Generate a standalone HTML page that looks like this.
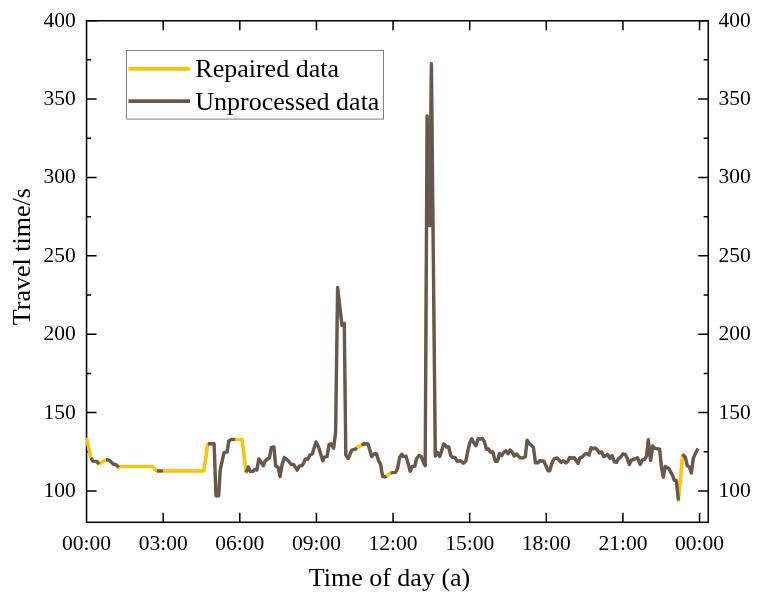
<!DOCTYPE html>
<html><head><meta charset="utf-8"><title>Travel time</title>
<style>
html,body{margin:0;padding:0;background:#fff;}
body{width:762px;height:600px;overflow:hidden;}
svg{display:block;}
text{font-family:"Liberation Serif","Times New Roman",serif;fill:#000;}
.tl{font-size:21.5px;}
.at{font-size:26px;}
.lg{font-size:26px;}
</style></head><body>
<svg width="762" height="600" viewBox="0 0 762 600">
<rect x="0" y="0" width="762" height="600" fill="#fff"/>
<g stroke="#000" stroke-width="1.5" fill="none" stroke-linecap="butt">
<rect x="86.55" y="20.75" width="621.7" height="501.55"/>
<path d="M86.55 491.00h10M708.25 491.00h-10"/>
<path d="M86.55 412.61h10M708.25 412.61h-10"/>
<path d="M86.55 334.22h10M708.25 334.22h-10"/>
<path d="M86.55 255.84h10M708.25 255.84h-10"/>
<path d="M86.55 177.45h10M708.25 177.45h-10"/>
<path d="M86.55 99.06h10M708.25 99.06h-10"/>
<path d="M86.55 20.67h10M708.25 20.67h-10"/>
<path d="M86.55 451.81h4.6M708.25 451.81h-4.6"/>
<path d="M86.55 373.42h4.6M708.25 373.42h-4.6"/>
<path d="M86.55 295.03h4.6M708.25 295.03h-4.6"/>
<path d="M86.55 216.64h4.6M708.25 216.64h-4.6"/>
<path d="M86.55 138.25h4.6M708.25 138.25h-4.6"/>
<path d="M86.55 59.86h4.6M708.25 59.86h-4.6"/>
<path d="M163.19 522.3v-9.6M163.19 20.75v9.4"/>
<path d="M239.81 522.3v-9.6M239.81 20.75v9.4"/>
<path d="M316.44 522.3v-9.6M316.44 20.75v9.4"/>
<path d="M393.06 522.3v-9.6M393.06 20.75v9.4"/>
<path d="M469.68 522.3v-9.6M469.68 20.75v9.4"/>
<path d="M546.31 522.3v-9.6M546.31 20.75v9.4"/>
<path d="M622.93 522.3v-9.6M622.93 20.75v9.4"/>
<path d="M699.55 522.3v-9.6M699.55 20.75v9.4"/>
</g>
<polyline points="86.6,437.8 90.8,457.9 92.9,461.1 97.1,461.4 98.6,464.2 106.0,459.6 109.1,460.2 113.3,464.0 116.5,464.8 118.4,467.4 120.2,466.6 152.2,466.6 156.9,471.0 162.9,471.0 203.8,471.0 207.9,443.8 214.1,443.8 216.0,495.7 218.7,495.7 220.2,469.9 224.0,452.7 227.2,451.8 228.8,441.0 231.4,439.4 235.2,439.4 242.1,439.4 246.1,472.4 248.3,467.1 250.4,471.5 253.0,471.4 254.7,469.4 256.8,470.0 258.9,458.9 261.0,461.8 263.3,465.8 265.2,460.9 269.4,457.9 271.3,447.7 273.9,447.0 275.7,465.9 278.0,467.2 280.1,476.6 282.0,465.0 284.3,457.5 288.3,460.8 290.9,464.2 293.6,464.5 297.2,470.1 299.3,466.1 301.9,465.6 303.5,463.5 305.3,458.9 308.0,459.2 309.8,455.0 312.3,454.0 316.0,441.9 318.6,447.2 322.8,460.8 324.4,457.1 327.0,456.6 329.1,444.5 331.2,444.0 333.6,448.2 335.6,432.4 337.6,287.4 342.0,325.4 344.3,323.4 345.8,455.0 348.3,458.4 351.7,450.2 355.4,449.2 356.6,447.6 361.7,445.1 363.8,443.7 368.0,444.0 371.7,456.6 373.8,454.0 376.4,453.8 378.6,460.8 380.6,464.2 382.6,476.6 385.3,476.8 386.3,476.0 390.7,472.9 395.5,472.4 397.6,468.2 399.7,457.2 401.8,454.2 403.3,456.6 406.0,456.1 410.2,471.2 412.3,466.6 414.9,466.1 416.5,458.7 419.1,455.4 421.2,456.6 424.3,464.5 425.2,465.6 427.1,115.9 429.7,225.7 431.4,63.6 435.3,456.1 437.6,452.6 439.8,456.5 443.8,444.0 445.4,445.2 446.8,447.2 448.7,446.8 450.7,455.4 452.8,457.4 455.0,457.4 457.1,461.2 460.7,460.8 463.4,463.2 465.8,461.2 467.6,451.9 469.7,443.0 471.8,438.8 473.9,443.0 476.0,445.6 478.1,438.8 480.2,439.1 482.3,438.2 484.4,441.9 486.5,449.2 488.6,449.0 490.7,452.4 492.8,451.9 495.2,461.2 497.5,461.2 499.4,453.5 501.7,455.6 503.8,452.4 505.9,450.8 508.0,453.8 510.1,450.0 512.2,451.9 514.3,456.1 516.5,454.0 520.1,457.8 523.3,457.9 525.3,456.6 527.1,440.2 529.7,444.0 533.4,447.2 535.5,462.9 537.9,462.9 539.7,460.8 543.9,461.2 548.1,470.8 549.7,470.8 552.3,461.9 554.4,458.7 557.0,458.0 561.2,462.4 563.3,460.8 565.9,462.9 568.0,461.2 569.6,457.4 571.7,458.2 574.3,457.7 578.0,463.4 580.1,457.7 582.2,457.1 584.9,454.2 587.0,453.5 589.1,455.1 591.1,447.7 592.8,448.9 595.0,447.9 597.1,449.6 599.5,452.9 601.6,451.9 603.7,456.6 605.8,455.6 607.6,454.5 610.0,458.2 612.1,455.6 614.4,461.9 616.5,462.4 618.6,458.7 620.7,457.1 622.8,454.0 625.4,454.5 627.0,457.7 629.3,464.5 631.2,460.2 633.8,459.5 637.5,457.7 640.1,464.5 642.2,460.2 644.8,459.2 646.5,456.2 648.3,439.8 650.6,460.6 652.7,445.9 655.0,448.4 659.6,449.2 661.4,466.8 663.3,477.1 665.2,466.4 668.7,468.4 672.7,475.7 674.4,480.4 676.3,480.4 678.4,500.4 682.7,454.4 685.3,457.1 687.3,465.7 689.6,467.1 691.3,473.1 693.3,458.4 695.3,453.7 698.0,448.4" fill="none" stroke="#FFC205" stroke-width="2.7" stroke-linejoin="round" stroke-linecap="butt"/>
<polyline points="86.6,437.8 90.8,457.9" fill="none" stroke="#FFC205" stroke-width="3.4" stroke-linejoin="round" stroke-linecap="butt"/>
<polyline points="98.6,464.2 106.0,459.6" fill="none" stroke="#FFC205" stroke-width="3.4" stroke-linejoin="round" stroke-linecap="butt"/>
<polyline points="118.4,467.4 120.2,466.6 152.2,466.6 156.9,471.0" fill="none" stroke="#FFC205" stroke-width="3.4" stroke-linejoin="round" stroke-linecap="butt"/>
<polyline points="162.9,471.0 203.8,471.0 207.9,443.8" fill="none" stroke="#FFC205" stroke-width="3.4" stroke-linejoin="round" stroke-linecap="butt"/>
<polyline points="235.2,439.4 242.1,439.4 246.1,472.4" fill="none" stroke="#FFC205" stroke-width="3.4" stroke-linejoin="round" stroke-linecap="butt"/>
<polyline points="356.6,447.6 361.7,445.1" fill="none" stroke="#FFC205" stroke-width="3.4" stroke-linejoin="round" stroke-linecap="butt"/>
<polyline points="386.3,476.0 390.7,472.9" fill="none" stroke="#FFC205" stroke-width="3.4" stroke-linejoin="round" stroke-linecap="butt"/>
<polyline points="678.4,500.4 682.7,454.4" fill="none" stroke="#FFC205" stroke-width="3.4" stroke-linejoin="round" stroke-linecap="butt"/>
<polyline points="90.8,457.9 92.9,461.1 97.1,461.4 98.6,464.2" fill="none" stroke="#67574C" stroke-width="3.4" stroke-linejoin="round" stroke-linecap="butt"/>
<polyline points="106.0,459.6 109.1,460.2 113.3,464.0 116.5,464.8 118.4,467.4" fill="none" stroke="#67574C" stroke-width="3.4" stroke-linejoin="round" stroke-linecap="butt"/>
<polyline points="156.9,471.0 162.9,471.0" fill="none" stroke="#67574C" stroke-width="3.4" stroke-linejoin="round" stroke-linecap="butt"/>
<polyline points="207.9,443.8 214.1,443.8 216.0,495.7 218.7,495.7 220.2,469.9 224.0,452.7 227.2,451.8 228.8,441.0 231.4,439.4 235.2,439.4" fill="none" stroke="#67574C" stroke-width="3.4" stroke-linejoin="round" stroke-linecap="butt"/>
<polyline points="246.1,472.4 248.3,467.1 250.4,471.5 253.0,471.4 254.7,469.4 256.8,470.0 258.9,458.9 261.0,461.8 263.3,465.8 265.2,460.9 269.4,457.9 271.3,447.7 273.9,447.0 275.7,465.9 278.0,467.2 280.1,476.6 282.0,465.0 284.3,457.5 288.3,460.8 290.9,464.2 293.6,464.5 297.2,470.1 299.3,466.1 301.9,465.6 303.5,463.5 305.3,458.9 308.0,459.2 309.8,455.0 312.3,454.0 316.0,441.9 318.6,447.2 322.8,460.8 324.4,457.1 327.0,456.6 329.1,444.5 331.2,444.0 333.6,448.2 335.6,432.4 337.6,287.4 342.0,325.4 344.3,323.4 345.8,455.0 348.3,458.4 351.7,450.2 355.4,449.2 356.6,447.6" fill="none" stroke="#67574C" stroke-width="3.4" stroke-linejoin="round" stroke-linecap="butt"/>
<polyline points="361.7,445.1 363.8,443.7 368.0,444.0 371.7,456.6 373.8,454.0 376.4,453.8 378.6,460.8 380.6,464.2 382.6,476.6 385.3,476.8 386.3,476.0" fill="none" stroke="#67574C" stroke-width="3.4" stroke-linejoin="round" stroke-linecap="butt"/>
<polyline points="390.7,472.9 395.5,472.4 397.6,468.2 399.7,457.2 401.8,454.2 403.3,456.6 406.0,456.1 410.2,471.2 412.3,466.6 414.9,466.1 416.5,458.7 419.1,455.4 421.2,456.6 424.3,464.5 425.2,465.6 427.1,115.9 429.7,225.7 431.4,63.6 435.3,456.1 437.6,452.6 439.8,456.5 443.8,444.0 445.4,445.2 446.8,447.2 448.7,446.8 450.7,455.4 452.8,457.4 455.0,457.4 457.1,461.2 460.7,460.8 463.4,463.2 465.8,461.2 467.6,451.9 469.7,443.0 471.8,438.8 473.9,443.0 476.0,445.6 478.1,438.8 480.2,439.1 482.3,438.2 484.4,441.9 486.5,449.2 488.6,449.0 490.7,452.4 492.8,451.9 495.2,461.2 497.5,461.2 499.4,453.5 501.7,455.6 503.8,452.4 505.9,450.8 508.0,453.8 510.1,450.0 512.2,451.9 514.3,456.1 516.5,454.0 520.1,457.8 523.3,457.9 525.3,456.6 527.1,440.2 529.7,444.0 533.4,447.2 535.5,462.9 537.9,462.9 539.7,460.8 543.9,461.2 548.1,470.8 549.7,470.8 552.3,461.9 554.4,458.7 557.0,458.0 561.2,462.4 563.3,460.8 565.9,462.9 568.0,461.2 569.6,457.4 571.7,458.2 574.3,457.7 578.0,463.4 580.1,457.7 582.2,457.1 584.9,454.2 587.0,453.5 589.1,455.1 591.1,447.7 592.8,448.9 595.0,447.9 597.1,449.6 599.5,452.9 601.6,451.9 603.7,456.6 605.8,455.6 607.6,454.5 610.0,458.2 612.1,455.6 614.4,461.9 616.5,462.4 618.6,458.7 620.7,457.1 622.8,454.0 625.4,454.5 627.0,457.7 629.3,464.5 631.2,460.2 633.8,459.5 637.5,457.7 640.1,464.5 642.2,460.2 644.8,459.2 646.5,456.2 648.3,439.8 650.6,460.6 652.7,445.9 655.0,448.4 659.6,449.2 661.4,466.8 663.3,477.1 665.2,466.4 668.7,468.4 672.7,475.7 674.4,480.4 676.3,480.4 678.4,500.4" fill="none" stroke="#67574C" stroke-width="3.4" stroke-linejoin="round" stroke-linecap="butt"/>
<polyline points="682.7,454.4 685.3,457.1 687.3,465.7 689.6,467.1 691.3,473.1 693.3,458.4 695.3,453.7 698.0,448.4" fill="none" stroke="#67574C" stroke-width="3.4" stroke-linejoin="round" stroke-linecap="butt"/>
<text class="tl" x="75.75" y="497.0" text-anchor="end">100</text>
<text class="tl" x="718.55" y="497.0" text-anchor="start">100</text>
<text class="tl" x="75.75" y="418.6" text-anchor="end">150</text>
<text class="tl" x="718.55" y="418.6" text-anchor="start">150</text>
<text class="tl" x="75.75" y="340.2" text-anchor="end">200</text>
<text class="tl" x="718.55" y="340.2" text-anchor="start">200</text>
<text class="tl" x="75.75" y="261.8" text-anchor="end">250</text>
<text class="tl" x="718.55" y="261.8" text-anchor="start">250</text>
<text class="tl" x="75.75" y="183.4" text-anchor="end">300</text>
<text class="tl" x="718.55" y="183.4" text-anchor="start">300</text>
<text class="tl" x="75.75" y="105.1" text-anchor="end">350</text>
<text class="tl" x="718.55" y="105.1" text-anchor="start">350</text>
<text class="tl" x="75.75" y="26.7" text-anchor="end">400</text>
<text class="tl" x="718.55" y="26.7" text-anchor="start">400</text>
<text class="tl" x="86.6" y="549.6" text-anchor="middle">00:00</text>
<text class="tl" x="163.2" y="549.6" text-anchor="middle">03:00</text>
<text class="tl" x="239.8" y="549.6" text-anchor="middle">06:00</text>
<text class="tl" x="316.4" y="549.6" text-anchor="middle">09:00</text>
<text class="tl" x="393.1" y="549.6" text-anchor="middle">12:00</text>
<text class="tl" x="469.7" y="549.6" text-anchor="middle">15:00</text>
<text class="tl" x="546.3" y="549.6" text-anchor="middle">18:00</text>
<text class="tl" x="622.9" y="549.6" text-anchor="middle">21:00</text>
<text class="tl" x="699.5" y="549.6" text-anchor="middle">00:00</text>
<text class="at" x="389.5" y="586.3" text-anchor="middle">Time of day (a)</text>
<text class="at" transform="translate(29.8 256.7) rotate(-90)" text-anchor="middle">Travel time/s</text>
<rect x="126.5" y="50.5" width="257" height="68.6" fill="#fff" stroke="#7f7f7f" stroke-width="1"/>
<path d="M128.5 68.9H190" stroke="#FFC205" stroke-width="3.8" fill="none"/>
<path d="M128.5 101.1H190" stroke="#67574C" stroke-width="3.8" fill="none"/>
<text class="lg" x="195.3" y="77">Repaired data</text>
<text class="lg" x="195.3" y="109.5">Unprocessed data</text>
</svg></body></html>
